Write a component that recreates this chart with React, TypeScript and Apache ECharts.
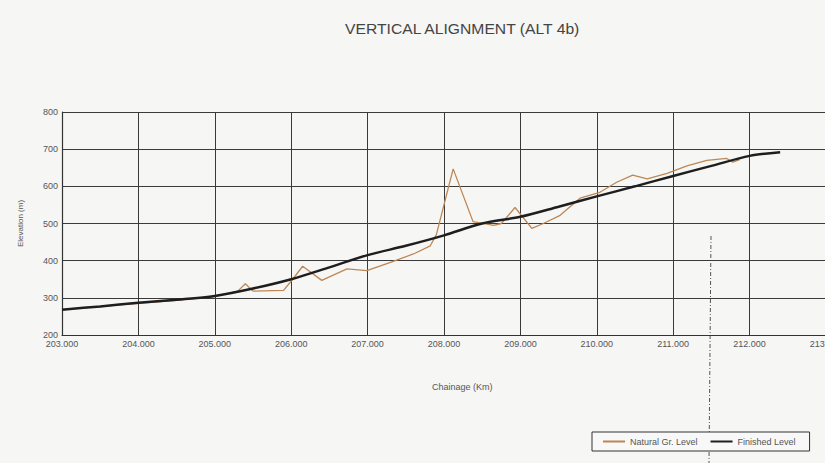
import React, { useEffect, useRef } from "react";
import * as echarts from "echarts";

const chartTitle = "VERTICAL ALIGNMENT (ALT 4b)";
const xAxisTitle = "Chainage (Km)";
const yAxisTitle = "Elevation (m)";
const seriesNames = ["Natural Gr. Level", "Finished Level"];

// Natural ground level (km, m)
const naturalChainage = [
  203.0, 203.5, 204.0, 204.5, 205.0, 205.3, 205.4, 205.5, 205.9, 206.02, 206.15,
  206.4, 206.73, 206.99, 207.29, 207.6, 207.82, 207.9, 208.12, 208.38, 208.65,
  208.75, 208.93, 209.15, 209.3, 209.52, 209.78, 210.04, 210.26, 210.47, 210.66,
  210.92, 211.18, 211.44, 211.7, 211.78, 211.87,
];
const naturalLevel = [
  268, 277, 285, 293, 304, 318, 338, 318, 320, 350, 385,
  347, 378, 373, 395, 418, 440, 470, 647, 505, 495,
  500, 543, 487, 500, 522, 568, 584, 611, 630, 620,
  635, 655, 670, 675, 665, 672,
];

// Finished level (km, m)
const finishedChainage = [
  203.0, 203.5, 204.0, 204.5, 205.0, 205.5, 206.0, 206.5, 207.0, 207.5, 208.0,
  208.5, 209.0, 209.5, 210.0, 210.5, 211.0, 211.5, 212.0, 212.4,
];
const finishedLevel = [
  268, 277, 287, 295, 305, 325, 350, 382, 415, 440, 468,
  500, 518, 545, 573, 600, 628, 655, 682, 692,
];

const xMin = 203;
const xMax = 213;
const yMin = 200;
const yMax = 800;

export default function App() {
  const ref = useRef<HTMLDivElement>(null);

  useEffect(() => {
    if (!ref.current) return;
    const chart = echarts.init(ref.current, undefined, { renderer: "svg" });
    const nat = naturalChainage.map((c, i) => [c, naturalLevel[i]]);
    const fin = finishedChainage.map((c, i) => [c, finishedLevel[i]]);
    const font = "'Liberation Sans', Arial, sans-serif";
    chart.setOption({
      animation: false,
      backgroundColor: "#f6f6f5",
      textStyle: { fontFamily: font },
      grid: {
        left: 62,
        right: -1,
        top: 112,
        bottom: 128,
        containLabel: false,
        outerBoundsMode: "none",
      },
      xAxis: {
        type: "value",
        min: xMin,
        max: xMax,
        interval: 1,
        axisLine: { show: true, lineStyle: { color: "#333", width: 1.2 } },
        axisTick: { show: false },
        splitLine: { show: true, lineStyle: { color: "#3a3a3a", width: 1 } },
        axisLabel: {
          color: "#555",
          fontSize: 9,
          margin: 4,
          formatter: (v: number) => v.toFixed(3),
        },
      },
      yAxis: {
        type: "value",
        min: yMin,
        max: yMax,
        interval: 100,
        name: yAxisTitle,
        nameLocation: "middle",
        nameGap: 38,
        nameTextStyle: { color: "#555", fontSize: 8 },
        axisLine: { show: true, lineStyle: { color: "#333", width: 1.2 } },
        axisTick: { show: false },
        splitLine: { show: true, lineStyle: { color: "#3a3a3a", width: 1 } },
        axisLabel: { color: "#555", fontSize: 9, margin: 4 },
      },
      legend: {
        left: 592,
        top: 432,
        itemWidth: 22,
        itemHeight: 6,
        itemGap: 12,
        padding: [5, 14, 5, 10],
        borderColor: "#333",
        borderWidth: 1,
        backgroundColor: "#f8f8f8",
        itemStyle: { opacity: 0 },
        textStyle: { color: "#555", fontSize: 9 },
        data: seriesNames,
      },
      graphic: [
        {
          type: "text",
          left: 345,
          top: 22,
          scaleX: 1.12,
          style: { text: chartTitle, fill: "#444", fontSize: 14, fontFamily: font },
        },
        {
          type: "text",
          left: 432,
          top: 382,
          style: { text: xAxisTitle, fill: "#555", fontSize: 9, fontFamily: font },
        },
        {
          type: "line",
          shape: { x1: 711, y1: 236, x2: 709, y2: 463 },
          style: { stroke: "#555", lineWidth: 1, lineDash: [4, 2, 1, 2] },
        },
      ],
      series: [
        {
          name: seriesNames[0],
          type: "line",
          data: nat,
          symbol: "none",
          lineStyle: { color: "#bd8755", width: 1.3 },
          itemStyle: { color: "#bd8755" },
          z: 2,
        },
        {
          name: seriesNames[1],
          type: "line",
          data: fin,
          symbol: "none",
          smooth: 0.3,
          lineStyle: { color: "#1e1e1e", width: 2.5 },
          itemStyle: { color: "#1e1e1e" },
          z: 3,
        },
      ],
    });
    return () => chart.dispose();
  }, []);

  return (
    <div
      ref={ref}
      style={{ position: "fixed", left: 0, top: 0, width: 825, height: 463 }}
    />
  );
}
